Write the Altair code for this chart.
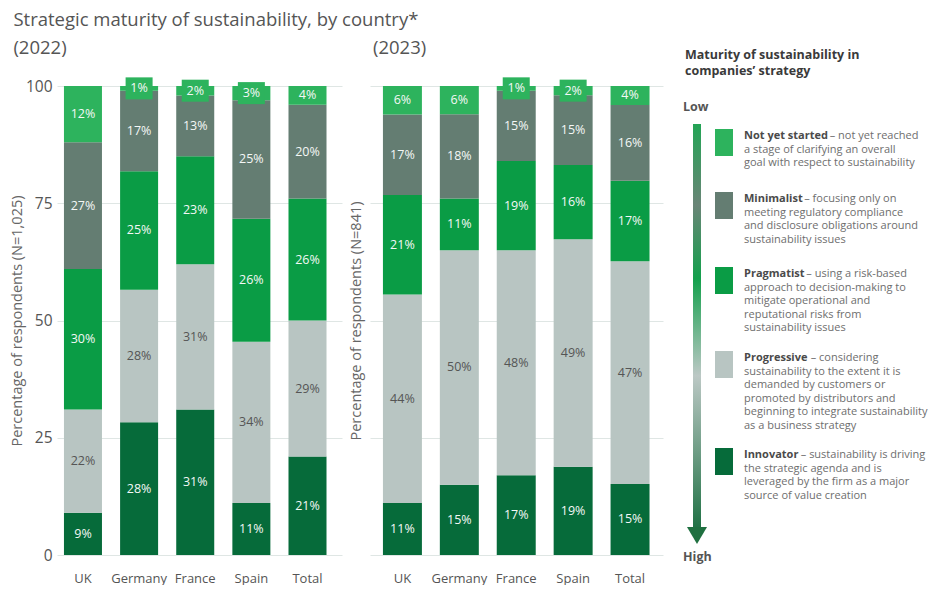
import altair as alt
import pandas as pd

FONT = "Open Sans"

countries = ["UK", "Germany", "France", "Spain", "Total"]
levels = ["Not yet started", "Minimalist", "Pragmatist", "Progressive", "Innovator"]
colors = ["#2db35d", "#647d72", "#0a9c45", "#b8c5c2", "#066b3a"]

not_yet_2022 = [12, 1, 2, 3, 4]
minimalist_2022 = [27, 17, 13, 25, 20]
pragmatist_2022 = [30, 25, 23, 26, 26]
progressive_2022 = [22, 28, 31, 34, 29]
innovator_2022 = [9, 28, 31, 11, 21]

not_yet_2023 = [6, 6, 1, 2, 4]
minimalist_2023 = [17, 18, 15, 15, 16]
pragmatist_2023 = [21, 11, 19, 16, 17]
progressive_2023 = [44, 50, 48, 49, 47]
innovator_2023 = [11, 15, 17, 19, 15]

legend_title = ["Maturity of sustainability in", "companies\u2019 strategy"]
legend_names = ["Not yet started", "Minimalist", "Pragmatist", "Progressive", "Innovator"]
legend_desc = [
    ["\u2013 not yet reached", "a stage of clarifying an overall", "goal with respect to sustainability"],
    ["\u2013 focusing only on", "meeting regulatory compliance", "and disclosure obligations around", "sustainability issues"],
    ["\u2013 using a risk-based", "approach to decision-making to", "mitigate operational and", "reputational risks from", "sustainability issues"],
    ["\u2013 considering", "sustainability to the extent it is", "demanded by customers or", "promoted by distributors and", "beginning to integrate sustainability", "as a business strategy"],
    ["\u2013 sustainability is driving", "the strategic agenda and is", "leveraged by the firm as a major", "source of value creation"],
]


def build(series):
    rows = []
    stack_order = ["Innovator", "Progressive", "Pragmatist", "Minimalist", "Not yet started"]
    for i, c in enumerate(countries):
        total = sum(series[l][i] for l in levels)
        cum = 0.0
        for l in stack_order:
            v = series[l][i]
            share = v / total * 100
            rows.append({"country": c, "level": l, "value": v, "label": f"{v}%",
                         "y0": cum, "y1": cum + share, "mid": cum + share / 2})
            cum += share
    return pd.DataFrame(rows)


df22 = build({"Not yet started": not_yet_2022, "Minimalist": minimalist_2022, "Pragmatist": pragmatist_2022,
              "Progressive": progressive_2022, "Innovator": innovator_2022})
df23 = build({"Not yet started": not_yet_2023, "Minimalist": minimalist_2023, "Pragmatist": pragmatist_2023,
              "Progressive": progressive_2023, "Innovator": innovator_2023})

BOX = "M-1,-0.815H1V0.815H-1Z"


def panel(df, width, pin, pout, align, ytitle, show_labels, title):
    xsc = alt.Scale(paddingInner=pin, paddingOuter=pout, align=align)
    xax = alt.Axis(title=None, labelAngle=0, ticks=False, domain=False, labelPadding=17,
                   labelFontSize=13, labelColor="#555", labelFont=FONT)
    yax = alt.Axis(values=[0, 25, 50, 75, 100], grid=True, gridColor="#dfe6e4", ticks=False, domain=False,
                   labels=show_labels, labelPadding=5, labelFontSize=15.5, labelColor="#555", labelFont=FONT,
                   title=ytitle, titleFontSize=14.5, titleFontWeight="normal", titleColor="#666",
                   titleFont=FONT, titlePadding=1 if show_labels else 7)
    ysc = alt.Scale(domain=[0, 100], nice=False)
    x = alt.X("country:N", sort=countries, scale=xsc, axis=xax)
    base = alt.Chart(df)
    bars = base.mark_bar().encode(
        x=x,
        y=alt.Y("y0:Q", scale=ysc, axis=yax),
        y2="y1:Q",
        color=alt.Color("level:N", scale=alt.Scale(domain=levels, range=colors), legend=None),
    )
    boxes = base.transform_filter("datum.value <= 3").mark_point(
        shape=BOX, size=729, filled=True, opacity=1, color=colors[0]
    ).encode(x=x, y=alt.Y("mid:Q", scale=ysc, axis=yax))
    texts = base.mark_text(font=FONT, fontSize=12.5).encode(
        x=x,
        y=alt.Y("mid:Q", scale=ysc, axis=yax),
        text="label:N",
        color=alt.condition("datum.level == 'Progressive'", alt.value("#555555"), alt.value("#f4f8f6")),
    )
    return alt.layer(bars, boxes, texts).properties(width=width, height=469, title=title)


left = panel(df22, 285, 0.323, 0.2, 0.31, "Percentage of respondents (N=1,025)", True,
             alt.TitleParams("(2022)", anchor="start", frame="bounds", fontSize=18.5, fontWeight="normal",
                             color="#555", font=FONT, offset=20, dx=4))
right = panel(df23, 293, 0.315, 0.232, 0.49, "Percentage of respondents (N=841)", False,
              alt.TitleParams("(2023)", anchor="start", frame="group", fontSize=18.5, fontWeight="normal",
                              color="#555", font=FONT, offset=20, dx=3))

# ---- legend panel (pixel layout relative to panel origin) ----
LX, LY = 691, 86
BOLD_W = {c: w * 1.12 for c, w in zip("abcdefghijklmnopqrstuvwxyz ",
                                       [.52, .57, .47, .57, .54, .34, .51, .57, .26, .26, .53, .26, .86, .57, .57,
                                        .57, .57, .38, .44, .37, .57, .52, .79, .52, .52, .47, .22])}
CAP_W = {"N": .80, "M": .95, "P": .66, "I": .33}


def bold_width(s, fs):
    return sum(CAP_W.get(ch, BOLD_W.get(ch, .6)) for ch in s) * fs


FS = 11
LH = 13.5
first_lines = [136, 199, 274, 358, 455]

title_rows = [{"px": 685 - LX, "py": y - LY, "t": t} for t, y in zip(legend_title, [55, 71])]
lowhigh_rows = [{"px": 683 - LX, "py": 107 - LY, "t": "Low"}, {"px": 683 - LX, "py": 557 - LY, "t": "High"}]
name_rows, desc_rows, sq_rows = [], [], []
for k, (name, lines) in enumerate(zip(legend_names, legend_desc)):
    y0 = first_lines[k]
    name_rows.append({"px": 744 - LX, "py": y0 - LY, "t": name})
    for j, line in enumerate(lines):
        px = 744 - LX + (bold_width(name, FS) + 3 if j == 0 else 0)
        desc_rows.append({"px": px, "py": y0 + j * LH - LY, "t": line})
    sq_rows.append({"px": 715 - LX, "px2": 733 - LX, "py": y0 - 7 - LY, "py2": y0 + 20 - LY, "level": name})

PX = lambda f: alt.X(f, scale=None, axis=None)
PY = lambda f: alt.Y(f, scale=None, axis=None)

t_title = alt.Chart(pd.DataFrame(title_rows)).mark_text(
    align="left", baseline="middle", font=FONT, fontSize=12.5, fontWeight="bold", color="#3a3a3a"
).encode(x=PX("px:Q"), y=PY("py:Q"), text="t:N")
t_lh = alt.Chart(pd.DataFrame(lowhigh_rows)).mark_text(
    align="left", baseline="middle", font=FONT, fontSize=12.5, fontWeight="bold", color="#555"
).encode(x=PX("px:Q"), y=PY("py:Q"), text="t:N")
t_name = alt.Chart(pd.DataFrame(name_rows)).mark_text(
    align="left", baseline="middle", font=FONT, fontSize=FS, fontWeight="bold", color="#4a4a4a"
).encode(x=PX("px:Q"), y=PY("py:Q"), text="t:N")
t_desc = alt.Chart(pd.DataFrame(desc_rows)).mark_text(
    align="left", baseline="middle", font=FONT, fontSize=FS, color="#6e6e6e"
).encode(x=PX("px:Q"), y=PY("py:Q"), text="t:N")
squares = alt.Chart(pd.DataFrame(sq_rows)).mark_rect().encode(
    x=PX("px:Q"), x2="px2:Q", y=PY("py:Q"), y2="py2:Q",
    color=alt.Color("level:N", scale=alt.Scale(domain=levels, range=colors), legend=None),
)
grad = alt.LinearGradient(
    gradient="linear", x1=0, y1=0, x2=0, y2=1,
    stops=[
        alt.GradientStop(offset=0.0, color="#23a455"),
        alt.GradientStop(offset=0.2, color="#6a8577"),
        alt.GradientStop(offset=0.38, color="#13a04c"),
        alt.GradientStop(offset=0.62, color="#bcc8c5"),
        alt.GradientStop(offset=1.0, color="#1e7043"),
    ],
)
arrow_bar = alt.Chart(pd.DataFrame([{"px": 693 - LX, "px2": 701 - LX, "py": 124 - LY, "py2": 530 - LY}])).mark_rect(
    fill=grad
).encode(x=PX("px:Q"), x2="px2:Q", y=PY("py:Q"), y2="py2:Q")
arrow_head = alt.Chart(pd.DataFrame([{"px": 697 - LX, "py": 535.5 - LY}])).mark_point(
    shape="M-1,-0.85L1,-0.85L0,0.85Z", size=400, filled=True, opacity=1, color="#1f7040"
).encode(x=PX("px:Q"), y=PY("py:Q"))

legend = alt.layer(arrow_bar, arrow_head, squares, t_title, t_lh, t_name, t_desc).properties(width=244, height=469)

chart = alt.hconcat(left, right, legend, spacing=28, bounds="flush").properties(
    title=alt.TitleParams("Strategic maturity of sustainability, by country*", anchor="start", fontSize=18.5,
                          fontWeight="normal", color="#555", font=FONT, offset=9, dx=4),
    padding={"left": 9, "top": 11, "right": 0, "bottom": 0},
).configure(font=FONT).configure_view(stroke=None)

chart.save("out.html", embed_options={"renderer": "svg", "actions": False})
